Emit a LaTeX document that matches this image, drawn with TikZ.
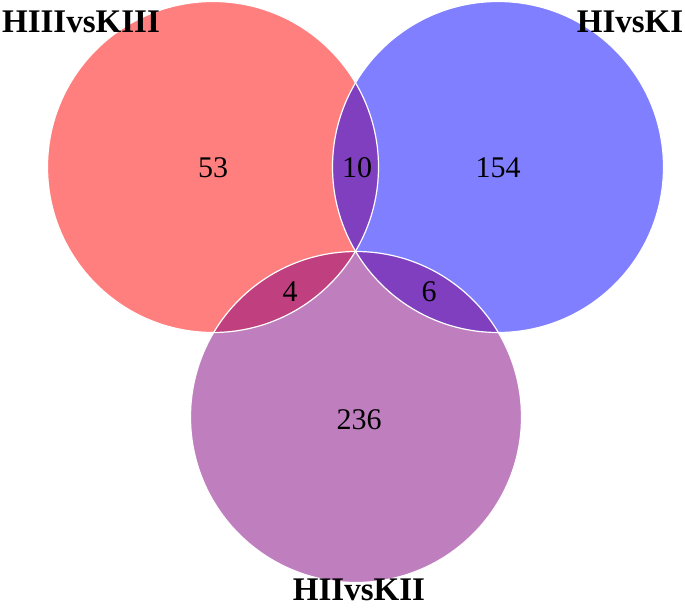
\documentclass[tikz,border=0pt]{standalone}
\usepackage{fontspec}
\setmainfont{Liberation Serif}
\definecolor{vpurple}{RGB}{128,0,128}
\begin{document}
\begin{tikzpicture}[x=1pt,y=-1pt,
  setfill/.style={fill opacity=0.5},
  rim/.style={draw=white,line width=1.2pt},
  count/.style={inner sep=0pt,font=\fontsize{30}{30}\selectfont},
  setname/.style={inner sep=0pt,font=\fontsize{33}{33}\selectfont\bfseries}]
\useasboundingbox (0,0) rectangle (685,609);
\fill[white] (0,0) rectangle (685,609);
\coordinate (cr) at (213,167);
\coordinate (cb) at (498,167);
\coordinate (cp) at (356,417);
\fill[red,setfill] (cr) circle[radius=165.5];
\fill[blue,setfill] (cb) circle[radius=165.5];
\fill[vpurple,setfill] (cp) circle[radius=165.5];
\draw[rim] (cr) circle[radius=165.5];
\draw[rim] (cb) circle[radius=165.5];
\draw[rim] (cp) circle[radius=165.5];
\node[count] (n53) at (213,168) {53};
\node[count] (n10) at (357,168) {10};
\node[count] (n154) at (498,168) {154};
\node[count] (n4) at (290,292) {4};
\node[count] (n6) at (429,292) {6};
\node[count] (n236) at (359,420) {236};
\node[setname] (lA) at (81,22) {HIIIvsKIII};
\node[setname] (lB) at (630,22) {HIvsKI};
\node[setname] (lC) at (359,590) {HIIvsKII};
\end{tikzpicture}
\end{document}
